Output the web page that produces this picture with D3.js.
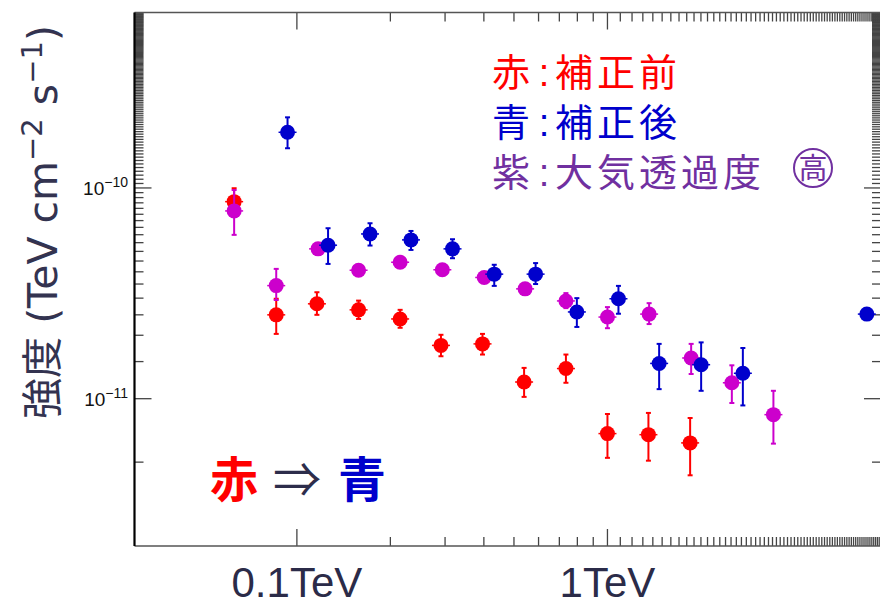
<!DOCTYPE html>
<html><head><meta charset="utf-8">
<script src="https://cdn.jsdelivr.net/npm/d3@7"></script>
<style>
html,body{margin:0;padding:0;background:#fff;}
svg{display:block;}
</style></head>
<body>
<svg id="chart" width="880" height="606"></svg>
<script>
// ---- data (energy in TeV, flux in TeV cm^-2 s^-1) ----
const redE   = [0.0628,0.0858,0.116,0.158,0.215,0.291,0.396,0.539,0.735,1.0,1.355,1.846];
const redF   = [8.61e-11,2.50e-11,2.82e-11,2.64e-11,2.39e-11,1.79e-11,1.82e-11,1.20e-11,1.39e-11,6.83e-12,6.75e-12,6.17e-12];
const redHi  = [9.97e-11,2.98e-11,3.20e-11,2.92e-11,2.64e-11,2.01e-11,2.03e-11,1.40e-11,1.62e-11,8.46e-12,8.56e-12,8.10e-12];
const redLo  = [7.45e-11,2.03e-11,2.50e-11,2.39e-11,2.17e-11,1.59e-11,1.62e-11,1.02e-11,1.19e-11,5.24e-12,5.08e-12,4.33e-12];

const blueE  = [0.0933,0.126,0.172,0.233,0.317,0.432,0.587,0.797,1.085,1.467,2.003,2.729,6.842];
const blueF  = [1.837e-10,5.35e-11,6.05e-11,5.67e-11,5.14e-11,3.90e-11,3.90e-11,2.58e-11,2.98e-11,1.47e-11,1.45e-11,1.32e-11,2.52e-11];
const blueHi = [2.163e-10,6.44e-11,6.80e-11,6.25e-11,5.71e-11,4.32e-11,4.40e-11,3.00e-11,3.43e-11,1.82e-11,1.85e-11,1.74e-11,2.52e-11];
const blueLo = [1.543e-10,4.36e-11,5.33e-11,5.08e-11,4.64e-11,3.43e-11,3.50e-11,2.19e-11,2.53e-11,1.11e-11,1.09e-11,9.29e-12,2.52e-11];

const purpE  = [0.0628,0.0858,0.117,0.158,0.215,0.294,0.401,0.543,0.735,1.0,1.362,1.860,2.515,3.423];
const purpF  = [7.78e-11,3.44e-11,5.14e-11,4.07e-11,4.44e-11,4.09e-11,3.76e-11,3.32e-11,2.91e-11,2.44e-11,2.52e-11,1.56e-11,1.19e-11,8.40e-12];
const purpHi = [9.78e-11,4.13e-11,5.43e-11,4.30e-11,4.69e-11,4.32e-11,3.97e-11,3.51e-11,3.17e-11,2.72e-11,2.84e-11,1.82e-11,1.44e-11,1.09e-11];
const purpLo = [5.99e-11,2.94e-11,4.87e-11,3.85e-11,4.20e-11,3.87e-11,3.56e-11,3.14e-11,2.69e-11,2.16e-11,2.26e-11,1.31e-11,9.54e-12,6.12e-12];

const xLabels = ["0.1TeV","1TeV"];
const xLabelValues = [0.1, 1];
const yMajor = [1e-10, 1e-11];
const yMajorExp = ["−10","−11"];

const legendLines = [
  {head:"赤", sep:":", body:"補正前", color:"#ff0000"},
  {head:"青", sep:":", body:"補正後", color:"#0000cc"},
  {head:"紫", sep:":", body:"大気透過度", color:"#7030a0", circled:"高"}
];

// ---- layout ----
const svg = d3.select("#chart");
const L = 134.5, R = 881, T = 12.5, B = 546;
const x = d3.scaleLog().domain([0.03, 7.6]).range([L, R]);
const y = d3.scaleLog().domain([2e-12, 6.8e-10]).range([B, T]);

const isPow10 = v => Math.abs(Math.log10(v) - Math.round(Math.log10(v))) < 1e-6;

// ticks
const axisG = svg.append("g");
const xt = x.ticks(100).filter(v => v > 0.03*1.001 && v < 7.6);
xt.forEach(v => {
  const len = isPow10(v) ? 17 : 9;
  const px = x(v);
  axisG.append("line").attr("x1",px).attr("x2",px).attr("y1",B).attr("y2",B-len).attr("stroke","#444").attr("stroke-width",1.3);
  axisG.append("line").attr("x1",px).attr("x2",px).attr("y1",T).attr("y2",T+len).attr("stroke","#444").attr("stroke-width",1.3);
});
const yt = y.ticks(100).filter(v => v > 2e-12*1.001 && v < 6.8e-10);
yt.forEach(v => {
  const len = isPow10(v) ? 17 : 9;
  const py = y(v);
  axisG.append("line").attr("x1",L).attr("x2",L+len).attr("y1",py).attr("y2",py).attr("stroke","#444").attr("stroke-width",1.3);
  axisG.append("line").attr("x1",R).attr("x2",R-len).attr("y1",py).attr("y2",py).attr("stroke","#444").attr("stroke-width",1.3);
});
// frame
axisG.append("line").attr("x1",L).attr("x2",R).attr("y1",T).attr("y2",T).attr("stroke","#555").attr("stroke-width",1.5);
axisG.append("line").attr("x1",L).attr("x2",R).attr("y1",B).attr("y2",B).attr("stroke","#555").attr("stroke-width",1.5);
axisG.append("line").attr("x1",L).attr("x2",L).attr("y1",T).attr("y2",B).attr("stroke","#000").attr("stroke-width",2.2);

// y tick labels
yMajor.forEach((v,i) => {
  const t = svg.append("text").attr("x",128).attr("y",y(v)+7).attr("text-anchor","end")
    .attr("font-family","Liberation Sans, Arial, sans-serif").attr("font-size",19).attr("fill","#111");
  t.append("tspan").text("10");
  t.append("tspan").attr("dy",-8).attr("font-size",14).text(yMajorExp[i]);
});

// x labels
xLabels.forEach((s,i) => {
  svg.append("text").attr("x",x(xLabelValues[i])).attr("y",597).attr("text-anchor","middle")
    .attr("font-family","Liberation Sans, Arial, sans-serif").attr("font-size",42).attr("fill","#2b2b48")
    .text(s);
});

// y title
const yt2 = svg.append("text").attr("transform","translate(57,222) rotate(-90)").attr("text-anchor","middle")
  .attr("font-family","DejaVu Sans, Noto Sans CJK JP, sans-serif").attr("font-size",41).attr("fill","#333350");
yt2.append("tspan").attr("font-family","Noto Sans CJK JP").text("強度");
yt2.append("tspan").text(" (TeV cm");
yt2.append("tspan").attr("dy",-15).attr("font-size",29).text("−2");
yt2.append("tspan").attr("dy",15).text(" s");
yt2.append("tspan").attr("dy",-15).attr("font-size",29).text("−1");
yt2.append("tspan").attr("dy",15).text(")");

// series
function drawSeries(E, F, Hi, Lo, color) {
  const g = svg.append("g");
  E.forEach((e,i) => {
    const cx = x(e), cy = y(F[i]), yh = y(Hi[i]), yl = y(Lo[i]);
    g.append("line").attr("x1",cx).attr("x2",cx).attr("y1",yh).attr("y2",yl).attr("stroke",color).attr("stroke-width",2);
    [yh,yl].forEach(yy => g.append("line").attr("x1",cx-2.5).attr("x2",cx+2.5).attr("y1",yy).attr("y2",yy).attr("stroke",color).attr("stroke-width",2));
    g.append("line").attr("x1",cx-9).attr("x2",cx+9).attr("y1",cy).attr("y2",cy).attr("stroke",color).attr("stroke-width",1.5);
    g.append("circle").attr("cx",cx).attr("cy",cy).attr("r",7.5).attr("fill",color);
  });
}
drawSeries(redE, redF, redHi, redLo, "#ff0000");
drawSeries(purpE, purpF, purpHi, purpLo, "#cc00cc");
drawSeries(blueE, blueF, blueHi, blueLo, "#0000cc");

// legend
legendLines.forEach((d,i) => {
  const by = 86 + i*50;
  const g = svg.append("g").attr("fill", d.color).attr("font-family","Noto Sans CJK JP, sans-serif").attr("font-size",38);
  g.append("text").attr("x",492).attr("y",by).text(d.head);
  g.append("text").attr("x",544).attr("y",by).attr("text-anchor","middle").attr("font-family","Liberation Sans, Arial").text(d.sep);
  g.append("text").attr("x",555).attr("y",by).attr("letter-spacing",4).text(d.body);
  if (d.circled) {
    const cx = 813, cy = 168;
    svg.append("circle").attr("cx",cx).attr("cy",cy).attr("r",19).attr("fill","none").attr("stroke",d.color).attr("stroke-width",2);
    svg.append("text").attr("x",cx).attr("y",cy+10.5).attr("text-anchor","middle")
      .attr("font-family","Noto Sans CJK JP, sans-serif").attr("font-size",29).attr("fill",d.color).text(d.circled);
  }
});

// annotation 赤 ⇒ 青
const ann = svg.append("text").attr("x",210).attr("y",497)
  .attr("font-family","Noto Sans CJK JP, sans-serif").attr("font-size",48).attr("font-weight","bold");
ann.append("tspan").attr("fill","#ff0000").text("赤");
ann.append("tspan").attr("fill","#2d2d4b").attr("font-weight","normal").attr("dx",15).text("⇒");
ann.append("tspan").attr("fill","#0000cc").attr("dx",17).text("青");
</script>
</body></html>
